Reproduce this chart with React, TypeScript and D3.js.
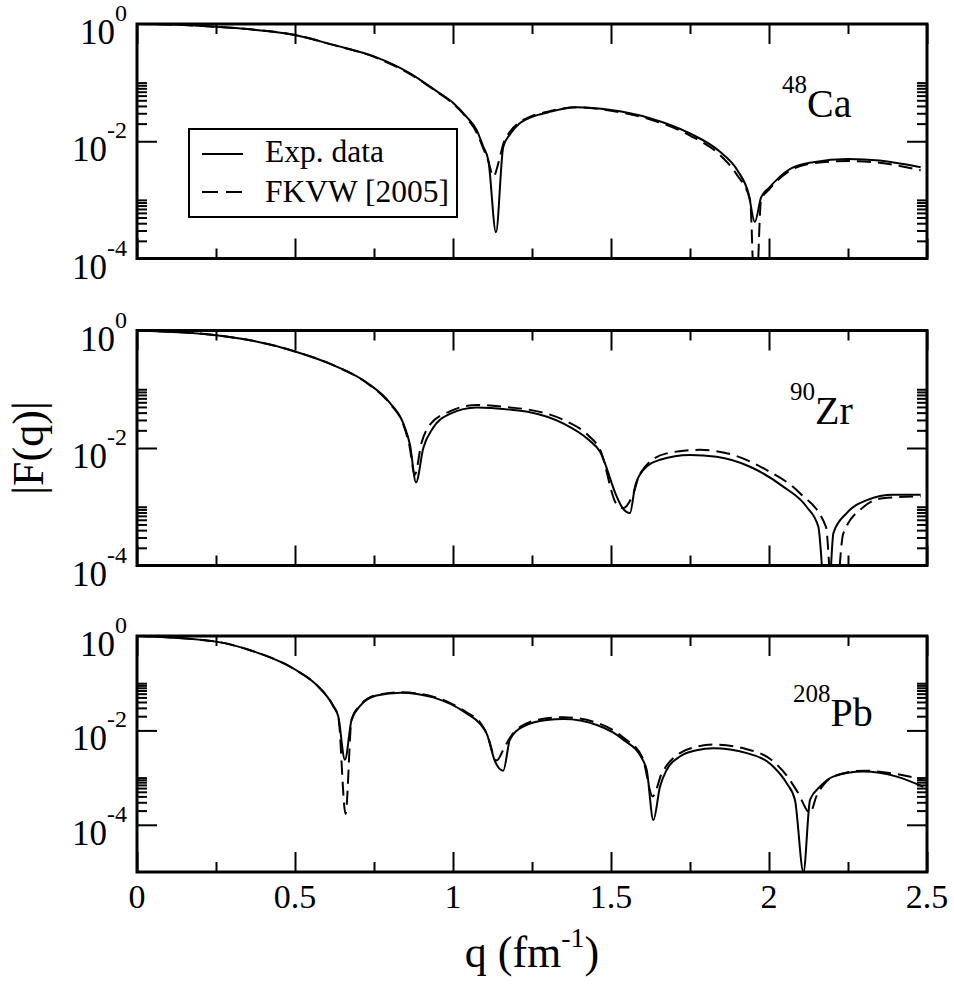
import React, { useEffect, useRef } from "react";
import * as d3 from "d3";

// 48Ca: experiment (solid) and FKVW [2005] (dashed)
const caExpQ = [0, 0.1, 0.25, 0.358, 0.5, 0.621, 0.75, 0.864, 0.948, 1.0, 1.043, 1.075, 1.096, 1.112, 1.136, 1.159, 1.18, 1.21, 1.25, 1.3, 1.39, 1.5, 1.62, 1.75, 1.845, 1.9, 1.935, 1.955, 1.975, 2.0, 2.06, 2.14, 2.25, 2.35, 2.48];
const caExpF = [1, 0.983, 0.897, 0.81, 0.65, 0.44, 0.28, 0.144, 0.0716, 0.0455, 0.026, 0.0155, 8e-3, 4.7e-3, 2.8e-4, 8e-3, 0.013, 0.02, 0.026, 0.031, 0.038, 0.034, 0.025, 0.0136, 6.6e-3, 3.2e-3, 1.3e-3, 4.2e-4, 1.1e-3, 1.6e-3, 3.2e-3, 4.4e-3, 5e-3, 4.7e-3, 3.6e-3];
const caThQ = [0, 0.1, 0.25, 0.358, 0.5, 0.621, 0.75, 0.864, 0.948, 1.0, 1.043, 1.075, 1.096, 1.112, 1.128, 1.145, 1.159, 1.18, 1.21, 1.25, 1.3, 1.39, 1.5, 1.62, 1.75, 1.845, 1.9, 1.94, 1.957, 1.975, 2.0, 2.06, 2.14, 2.25, 2.35, 2.48];
const caThF = [1, 0.983, 0.897, 0.81, 0.65, 0.44, 0.275, 0.14, 0.07, 0.044, 0.025, 0.014, 7.5e-3, 4.5e-3, 2.5e-3, 4.5e-3, 9e-3, 0.0145, 0.021, 0.027, 0.032, 0.038, 0.033, 0.024, 0.0125, 5.8e-3, 2.6e-3, 1.0e-3, 1e-5, 1.0e-3, 1.5e-3, 3e-3, 4.2e-3, 4.6e-3, 4.3e-3, 3.2e-3];

// 90Zr
const zrExpQ = [0, 0.25, 0.358, 0.5, 0.621, 0.727, 0.801, 0.843, 0.864, 0.883, 0.906, 0.937, 0.99, 1.075, 1.18, 1.24, 1.35, 1.43, 1.465, 1.518, 1.534, 1.56, 1.576, 1.602, 1.655, 1.75, 1.834, 1.94, 2.045, 2.119, 2.156, 2.184, 2.204, 2.246, 2.31, 2.393, 2.48];
const zrExpF = [1, 0.83, 0.68, 0.44, 0.257, 0.13, 0.058, 0.026, 0.0113, 2.6e-3, 0.01, 0.022, 0.038, 0.049, 0.045, 0.041, 0.026, 0.0137, 8.7e-3, 1.5e-3, 1.0e-3, 7.8e-4, 2.2e-3, 4.2e-3, 6.3e-3, 7.6e-3, 7.1e-3, 4.8e-3, 2.2e-3, 1e-3, 4.6e-4, 1e-5, 3.6e-4, 7.8e-4, 1.3e-3, 1.6e-3, 1.6e-3];
const zrThQ = [0, 0.25, 0.358, 0.5, 0.621, 0.727, 0.801, 0.843, 0.862, 0.879, 0.9, 0.93, 0.99, 1.075, 1.18, 1.24, 1.35, 1.43, 1.465, 1.518, 1.539, 1.571, 1.592, 1.676, 1.781, 1.887, 1.993, 2.098, 2.18, 2.205, 2.235, 2.3, 2.36, 2.48];
const zrThF = [1, 0.83, 0.68, 0.44, 0.257, 0.128, 0.056, 0.025, 0.011, 3.5e-3, 0.012, 0.026, 0.042, 0.054, 0.049, 0.045, 0.03, 0.016, 9.5e-3, 1.1e-3, 9.5e-4, 1.7e-3, 3.7e-3, 8.1e-3, 9.3e-3, 7.6e-3, 4.2e-3, 1.7e-3, 4.6e-4, 1e-5, 3.5e-4, 1e-3, 1.4e-3, 1.5e-3];

// 208Pb
const pbExpQ = [0, 0.25, 0.358, 0.5, 0.569, 0.621, 0.637, 0.658, 0.679, 0.706, 0.758, 0.835, 0.937, 1.043, 1.085, 1.107, 1.133, 1.159, 1.18, 1.222, 1.297, 1.35, 1.455, 1.54, 1.6, 1.613, 1.634, 1.655, 1.676, 1.718, 1.771, 1.824, 1.93, 2.014, 2.056, 2.082, 2.109, 2.13, 2.161, 2.203, 2.298, 2.404, 2.488];
const pbExpF = [1, 0.76, 0.5, 0.195, 0.091, 0.033, 0.0196, 2.4e-3, 0.0167, 0.033, 0.055, 0.063, 0.05, 0.023, 0.014, 8.4e-3, 2.2e-3, 1.4e-3, 6.3e-3, 0.012, 0.0166, 0.0174, 0.013, 6.3e-3, 2.4e-3, 1.45e-3, 1.26e-4, 6.4e-4, 1.45e-3, 2.8e-3, 3.8e-3, 4.2e-3, 3.3e-3, 1.7e-3, 7.6e-4, 3.4e-4, 1.0e-5, 3.4e-4, 6.4e-4, 1.05e-3, 1.34e-3, 1.05e-3, 6.4e-4];
const pbThQ = [0, 0.25, 0.358, 0.5, 0.569, 0.621, 0.637, 0.66, 0.679, 0.706, 0.758, 0.835, 0.937, 1.043, 1.085, 1.107, 1.138, 1.16, 1.18, 1.222, 1.297, 1.35, 1.455, 1.54, 1.6, 1.632, 1.66, 1.676, 1.718, 1.771, 1.824, 1.93, 2.014, 2.056, 2.09, 2.13, 2.15, 2.18, 2.21, 2.3, 2.4, 2.488];
const pbThF = [1, 0.76, 0.5, 0.195, 0.091, 0.033, 0.0196, 1.7e-4, 0.0167, 0.034, 0.056, 0.064, 0.052, 0.024, 0.015, 8.5e-3, 2.3e-3, 4e-3, 7e-3, 0.013, 0.018, 0.019, 0.0145, 7e-3, 2.6e-3, 4e-4, 1.2e-3, 1.8e-3, 3.3e-3, 4.5e-3, 5e-3, 4e-3, 2.2e-3, 1.1e-3, 5e-4, 1.8e-4, 4e-4, 8e-4, 1.1e-3, 1.4e-3, 1.2e-3, 9e-4];

const xMajorTicks = [0, 0.5, 1, 1.5, 2, 2.5];
const xMinorTicks = [0.25, 0.75, 1.25, 1.75, 2.25];
const xTickLabels = ["0", "0.5", "1", "1.5", "2", "2.5"];
const yLabelExps = [0, -2, -4];
const legendLabels = ["Exp. data", "FKVW [2005]"];

const zip = (q: number[], f: number[]) => q.map((v, i) => [v, f[i]] as [number, number]);

const panels = [
  { mass: "48", symbol: "Ca", exp: zip(caExpQ, caExpF), th: zip(caThQ, caThF), yMin: 1e-4, top: 24, bottom: 258.5, labelX: 782, labelY: 117 },
  { mass: "90", symbol: "Zr", exp: zip(zrExpQ, zrExpF), th: zip(zrThQ, zrThF), yMin: 1e-4, top: 330.5, bottom: 565.5, labelX: 790, labelY: 424 },
  { mass: "208", symbol: "Pb", exp: zip(pbExpQ, pbExpF), th: zip(pbThQ, pbThF), yMin: 1e-5, top: 636, bottom: 872, labelX: 793, labelY: 726 },
];

const font = "'Liberation Serif', 'Times New Roman', serif";

export default function App() {
  const ref = useRef<SVGSVGElement>(null);
  const width = 954;
  const height = 988;
  const marginLeft = 137;
  const marginRight = 27;
  const dash = "14,7";

  useEffect(() => {
    const svg = d3.select(ref.current);
    svg.selectAll("*").remove();

    const x = d3.scaleLinear().domain([0, 2.5]).range([marginLeft, width - marginRight]);
    const [x0, x1] = x.range();

    // ticks drawn inward with d3 axes, labels removed (drawn by hand below)
    const ticks = (g: any, axis: any, transform: string) =>
      g
        .append("g")
        .attr("transform", transform)
        .call(axis)
        .call((s: any) => s.select(".domain").remove())
        .call((s: any) => s.selectAll("text").remove())
        .call((s: any) => s.selectAll(".tick line").attr("stroke", "#000").attr("stroke-width", 2));

    panels.forEach((p, i) => {
      const y = d3.scaleLog().domain([p.yMin, 1]).range([p.bottom, p.top]);
      const g = svg.append("g").attr("font-family", font);

      g.append("clipPath")
        .attr("id", `clip${i}`)
        .append("rect")
        .attr("x", x0)
        .attr("y", p.top)
        .attr("width", x1 - x0)
        .attr("height", p.bottom - p.top);

      const line = d3
        .line<[number, number]>()
        .x((d) => x(d[0]))
        .y((d) => y(d[1]))
        .curve(d3.curveMonotoneX);

      g.append("path")
        .datum(p.th)
        .attr("clip-path", `url(#clip${i})`)
        .attr("fill", "none")
        .attr("stroke", "#000")
        .attr("stroke-width", 2)
        .attr("stroke-dasharray", dash)
        .attr("stroke-linejoin", "round")
        .attr("d", line);

      g.append("path")
        .datum(p.exp)
        .attr("clip-path", `url(#clip${i})`)
        .attr("fill", "none")
        .attr("stroke", "#000")
        .attr("stroke-width", 2)
        .attr("stroke-linejoin", "round")
        .attr("d", line);

      // minor log ticks: 2..10 x 10^-2 and 2..10 x 10^-4
      const yMinor = [-2, -4].flatMap((e) => d3.range(2, 11).map((k) => k * Math.pow(10, e)));
      const yMajor = yLabelExps.map((e) => Math.pow(10, e)).filter((v) => v > p.yMin && v < 1);

      ticks(g, d3.axisBottom(x).tickValues(xMajorTicks).tickSize(-20), `translate(0,${p.bottom})`);
      ticks(g, d3.axisBottom(x).tickValues(xMinorTicks).tickSize(-10), `translate(0,${p.bottom})`);
      ticks(g, d3.axisTop(x).tickValues(xMajorTicks).tickSize(-20), `translate(0,${p.top})`);
      ticks(g, d3.axisTop(x).tickValues(xMinorTicks).tickSize(-10), `translate(0,${p.top})`);
      ticks(g, d3.axisLeft(y).tickValues(yMajor).tickSize(-20), `translate(${x0},0)`);
      ticks(g, d3.axisLeft(y).tickValues(yMinor).tickSize(-10), `translate(${x0},0)`);
      ticks(g, d3.axisRight(y).tickValues(yMajor).tickSize(-20), `translate(${x1},0)`);
      ticks(g, d3.axisRight(y).tickValues(yMinor).tickSize(-10), `translate(${x1},0)`);

      g.append("rect")
        .attr("x", x0)
        .attr("y", p.top)
        .attr("width", x1 - x0)
        .attr("height", p.bottom - p.top)
        .attr("fill", "none")
        .attr("stroke", "#000")
        .attr("stroke-width", 3);

      // y tick labels 10^n
      yLabelExps.forEach((e) => {
        const t = g
          .append("text")
          .attr("x", 127)
          .attr("y", y(Math.pow(10, e)) + 20)
          .attr("text-anchor", "end")
          .attr("font-family", font)
          .attr("font-size", 35);
        t.append("tspan").text("10");
        t.append("tspan").attr("font-size", 24).attr("dy", -23).text(String(e));
      });

      // isotope label
      const lab = g
        .append("text")
        .attr("x", p.labelX)
        .attr("y", p.labelY)
        .attr("font-family", font)
        .attr("font-size", 40);
      lab.append("tspan").attr("font-size", 25).attr("dy", -24).text(p.mass);
      lab.append("tspan").attr("dy", 24).text(p.symbol);

      if (i === 0) {
        const lg = g.append("g");
        lg.append("rect")
          .attr("x", 189)
          .attr("y", 129)
          .attr("width", 268)
          .attr("height", 88)
          .attr("fill", "#fff")
          .attr("stroke", "#000")
          .attr("stroke-width", 2);
        legendLabels.forEach((name, k) => {
          const ly = 154 + k * 38;
          lg.append("line")
            .attr("x1", 202)
            .attr("x2", 243)
            .attr("y1", ly)
            .attr("y2", ly)
            .attr("stroke", "#000")
            .attr("stroke-width", 2)
            .attr("stroke-dasharray", k === 1 ? "16,8" : null);
          lg.append("text")
            .attr("x", 265)
            .attr("y", 162 + k * 39.5)
            .attr("font-family", font)
            .attr("font-size", 31.5)
            .text(name);
        });
      }

      if (i === panels.length - 1) {
        xMajorTicks.forEach((v, k) => {
          g.append("text")
            .attr("x", x(v))
            .attr("y", 908)
            .attr("text-anchor", "middle")
            .attr("font-family", font)
            .attr("font-size", 34)
            .text(xTickLabels[k]);
        });
      }
    });

    // axis titles
    svg
      .append("text")
      .attr("transform", `translate(43,448) rotate(-90)`)
      .attr("text-anchor", "middle")
      .attr("font-family", font)
      .attr("font-size", 44)
      .text("|F(q)|");

    const xt = svg
      .append("text")
      .attr("x", (x0 + x1) / 2)
      .attr("y", 967)
      .attr("text-anchor", "middle")
      .attr("font-family", font)
      .attr("font-size", 44);
    xt.append("tspan").text("q (fm");
    xt.append("tspan").attr("font-size", 28).attr("dy", -20).text("-1");
    xt.append("tspan").attr("dy", 20).text(")");
  }, []);

  return (
    <svg
      ref={ref}
      width={width}
      height={height}
      style={{ position: "absolute", left: 0, top: 0, display: "block", background: "#fff", fontFamily: font }}
    ></svg>
  );
}
